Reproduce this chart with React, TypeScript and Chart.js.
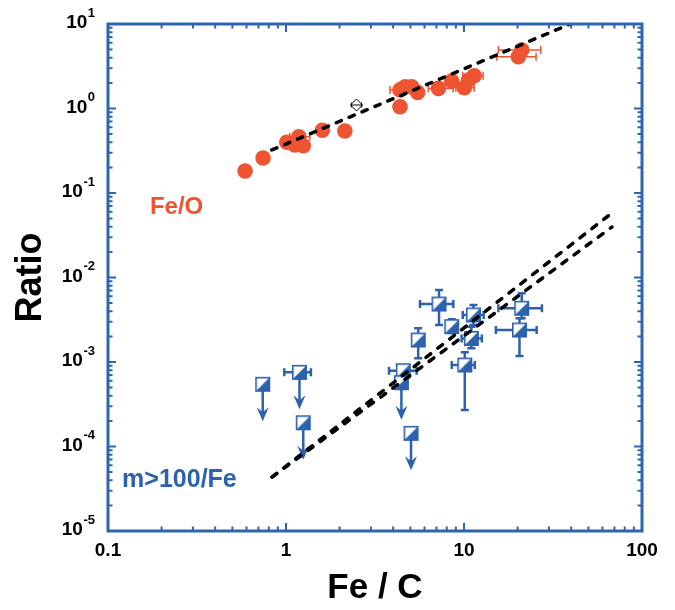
import React, { useEffect, useRef } from 'react';
import { Chart, registerables } from 'chart.js';

Chart.register(...registerables);

const FONT = '"Liberation Sans", Arial, Helvetica, sans-serif';
const RED = '#ee5332';
const BLUE = '#2c62ad';
const FRAME = '#2f64ae';

// ---- Fe/O series ----
const feoX = [0.589, 0.743, 1.01, 1.18, 1.12, 1.25, 1.6, 2.14, 4.37, 4.37, 4.67, 5.08, 5.49, 7.18, 8.52, 10.04, 10.6, 11.4, 20.2, 21.1];
const feoY = [0.182, 0.26, 0.398, 0.464, 0.37, 0.363, 0.552, 0.542, 1.05, 1.66, 1.81, 1.81, 1.55, 1.73, 2.11, 1.76, 2.17, 2.44, 4.1, 4.92];
const feoXLo = [null, null, null, 1.05, null, null, null, null, null, 3.84, null, null, null, 6.3, null, 9.0, null, 9.85, 15.3, 15.6];
const feoXHi = [null, null, null, 1.36, null, null, null, null, null, 5.0, null, null, null, 8.7, null, 11.4, null, 12.8, 25.4, 27.0];

// reference (open diamond)
const refX = [2.49];
const refY = [1.1];
const refXLo = [2.33];
const refXHi = [2.66];

// Fe/O fit
const feoFitX = [0.832, 39.5];
const feoFitY = [0.323, 10];

// ---- m>100/Fe series ----
const mX = [0.74, 1.19, 1.25, 5.04, 4.56, 4.45, 5.53, 7.24, 8.53, 11.3, 11.0, 10.1, 21.1, 20.5];
const mY = [5.45e-4, 7.55e-4, 1.91e-4, 1.43e-4, 7.89e-4, 5.69e-4, 1.82e-3, 4.85e-3, 2.62e-3, 3.6e-3, 1.9e-3, 9.2e-4, 4.32e-3, 2.39e-3];
const mXLo = [null, 0.978, null, null, 3.79, null, null, 5.66, null, 9.84, 9.7, 8.53, 15.6, 15.1];
const mXHi = [null, 1.38, null, null, 5.42, null, null, 8.71, null, 12.9, 12.6, 11.5, 27.4, 25.6];
const mYLo = [null, null, null, null, null, null, 1.11e-3, 2.74e-3, 2.2e-3, 2.74e-3, 1.45e-3, 2.7e-4, 3.3e-3, 1.18e-3];
const mYHi = [null, null, null, null, null, null, 2.51e-3, 7.1e-3, 3.2e-3, 4.73e-3, 2.62e-3, 1.3e-3, 6.5e-3, 3.3e-3];
const mUpper = [true, true, true, true, false, true, false, false, false, false, false, false, false, false];

// m>100/Fe fits
const mFitX = [0.834, 67.8];
const mFitUpperY = [4.35e-5, 0.058];
const mFitLowerY = [4.35e-5, 0.0396];

// ticks
const xTickValues = [0.1, 1, 10, 100];
const xTickLabels = ['0.1', '1', '10', '100'];
const yTickExponents = [-5, -4, -3, -2, -1, 0, 1];

// annotations (data coords)
const feoLabel = { text: 'Fe/O', x: 0.172, y: 0.068 };
const mLabel = { text: 'm>100/Fe', x: 0.12, y: 4.0e-5 };

function makeHalfSquare(size: number): HTMLCanvasElement {
  const c = document.createElement('canvas');
  c.width = size + 2;
  c.height = size + 2;
  const g = c.getContext('2d')!;
  const o = 1;
  g.fillStyle = '#fff';
  g.fillRect(o, o, size, size);
  g.fillStyle = BLUE;
  g.beginPath();
  g.moveTo(o + size, o);
  g.lineTo(o + size, o + size);
  g.lineTo(o, o + size);
  g.closePath();
  g.fill();
  g.strokeStyle = BLUE;
  g.lineWidth = 1.6;
  g.strokeRect(o + 0.8, o + 0.8, size - 1.6, size - 1.6);
  return c;
}

function errLine(ctx: CanvasRenderingContext2D, x1: number, y1: number, x2: number, y2: number, cap: number, horizontal: boolean) {
  ctx.beginPath();
  ctx.moveTo(x1, y1);
  ctx.lineTo(x2, y2);
  if (horizontal) {
    ctx.moveTo(x1, y1 - cap / 2);
    ctx.lineTo(x1, y1 + cap / 2);
    ctx.moveTo(x2, y2 - cap / 2);
    ctx.lineTo(x2, y2 + cap / 2);
  } else {
    ctx.moveTo(x1 - cap / 2, y1);
    ctx.lineTo(x1 + cap / 2, y1);
    ctx.moveTo(x2 - cap / 2, y2);
    ctx.lineTo(x2 + cap / 2, y2);
  }
  ctx.stroke();
}

const decorPlugin = {
  id: 'decor',
  beforeDatasetsDraw(chart: any) {
    const { ctx, scales } = chart;
    const xs = scales.x, ys = scales.y;
    ctx.save();
    ctx.strokeStyle = RED;
    ctx.lineWidth = 1.5;
    feoX.forEach((_, i) => {
      if (feoXLo[i] == null) return;
      const py = ys.getPixelForValue(feoY[i]);
      errLine(ctx, xs.getPixelForValue(feoXLo[i]), py, xs.getPixelForValue(feoXHi[i]), py, 8, true);
    });
    ctx.strokeStyle = BLUE;
    ctx.fillStyle = BLUE;
    ctx.lineWidth = 2.5;
    mX.forEach((xv, i) => {
      const px = xs.getPixelForValue(xv);
      const py = ys.getPixelForValue(mY[i]);
      if (mXLo[i] != null) {
        errLine(ctx, xs.getPixelForValue(mXLo[i]), py, xs.getPixelForValue(mXHi[i]), py, 8, true);
      }
      if (mYLo[i] != null) {
        errLine(ctx, px, ys.getPixelForValue(mYHi[i]), px, ys.getPixelForValue(mYLo[i]), 8, false);
      }
      if (mUpper[i]) {
        const len = 37;
        const tip = py + len;
        ctx.beginPath();
        ctx.moveTo(px, py);
        ctx.lineTo(px, tip - 6);
        ctx.stroke();
        ctx.beginPath();
        ctx.moveTo(px, tip);
        ctx.lineTo(px - 6, tip - 14);
        ctx.lineTo(px, tip - 9);
        ctx.lineTo(px + 6, tip - 14);
        ctx.closePath();
        ctx.fill();
      }
    });
    ctx.restore();
  },
  afterDatasetsDraw(chart: any) {
    const { ctx, scales } = chart;
    const xs = scales.x, ys = scales.y;
    ctx.save();
    ctx.strokeStyle = '#000';
    ctx.lineWidth = 1;
    refX.forEach((_, i) => {
      const py = ys.getPixelForValue(refY[i]);
      errLine(ctx, xs.getPixelForValue(refXLo[i]), py, xs.getPixelForValue(refXHi[i]), py, 5, true);
    });
    ctx.restore();
  },
  afterDraw(chart: any) {
    const { ctx, chartArea, scales } = chart;
    const xs = scales.x, ys = scales.y;
    const { left, right, top, bottom } = chartArea;
    ctx.save();
    ctx.strokeStyle = FRAME;
    ctx.lineWidth = 2;
    ctx.beginPath();
    for (let e = -1; e <= 1; e++) {
      for (let k = 1; k <= 9; k++) {
        const v = k * Math.pow(10, e);
        const px = xs.getPixelForValue(v);
        if (px <= left + 1 || px >= right - 1) continue;
        const len = k === 1 ? 8 : 4.5;
        ctx.moveTo(px, bottom);
        ctx.lineTo(px, bottom - len);
        ctx.moveTo(px, top);
        ctx.lineTo(px, top + len);
      }
    }
    for (let e = -5; e <= 0; e++) {
      for (let k = 1; k <= 9; k++) {
        const v = k * Math.pow(10, e);
        const py = ys.getPixelForValue(v);
        if (py <= top + 1 || py >= bottom - 1) continue;
        const len = k === 1 ? 8 : 4.5;
        ctx.moveTo(left, py);
        ctx.lineTo(left + len, py);
        ctx.moveTo(right, py);
        ctx.lineTo(right - len, py);
      }
    }
    ctx.stroke();
    ctx.lineWidth = 3;
    ctx.strokeRect(left, top, right - left, bottom - top);

    ctx.fillStyle = '#000';
    ctx.textBaseline = 'middle';
    ctx.textAlign = 'right';
    yTickExponents.forEach((ex) => {
      const py = ys.getPixelForValue(Math.pow(10, ex));
      const es = String(ex);
      ctx.font = `bold 13px ${FONT}`;
      const ew = ctx.measureText(es).width;
      ctx.fillText(es, left - 13, py - 11);
      ctx.font = `bold 19px ${FONT}`;
      ctx.fillText('10', left - 13 - ew - 0.5, py - 1);
    });

    ctx.textAlign = 'left';
    ctx.font = `bold 24px ${FONT}`;
    ctx.fillStyle = RED;
    ctx.fillText(feoLabel.text, xs.getPixelForValue(feoLabel.x), ys.getPixelForValue(feoLabel.y));
    ctx.font = `bold 25px ${FONT}`;
    ctx.fillStyle = BLUE;
    ctx.fillText(mLabel.text, xs.getPixelForValue(mLabel.x), ys.getPixelForValue(mLabel.y));
    ctx.restore();
  },
};

export default function App() {
  const ref = useRef<HTMLCanvasElement | null>(null);
  useEffect(() => {
    if (!ref.current) return;
    const square = makeHalfSquare(15);
    const lineStyle = {
      showLine: true,
      pointRadius: 0,
      borderColor: '#000',
      borderWidth: 3.5,
      borderDash: [6, 9],
      borderCapStyle: 'round' as const,
      fill: false,
      order: 0,
    };
    const chart = new Chart(ref.current, {
      type: 'scatter',
      data: {
        datasets: [
          { ...lineStyle, label: 'Fe/O fit', data: feoFitX.map((x, i) => ({ x, y: feoFitY[i] })), borderDash: [5.5, 8.5] },
          { ...lineStyle, label: 'm fit upper', data: mFitX.map((x, i) => ({ x, y: mFitUpperY[i] })) },
          { ...lineStyle, label: 'm fit lower', data: mFitX.map((x, i) => ({ x, y: mFitLowerY[i] })) },
          {
            label: 'Reference',
            data: refX.map((x, i) => ({ x, y: refY[i] })),
            pointStyle: 'rectRot',
            pointRadius: 6,
            backgroundColor: '#fff',
            borderColor: '#000',
            borderWidth: 1,
            order: 1,
          },
          {
            label: 'Fe/O',
            data: feoX.map((x, i) => ({ x, y: feoY[i] })),
            pointRadius: 7.8,
            backgroundColor: RED,
            borderColor: RED,
            borderWidth: 0,
            order: 1,
          },
          {
            label: 'm>100/Fe',
            data: mX.map((x, i) => ({ x, y: mY[i] })),
            pointStyle: square as any,
            pointRadius: 8,
            order: 1,
          },
        ],
      },
      options: {
        animation: false,
        responsive: false,
        maintainAspectRatio: false,
        devicePixelRatio: 1,
        events: [],
        layout: { padding: { top: 24, right: 33, left: 0, bottom: 0 } },
        plugins: { legend: { display: false }, tooltip: { enabled: false } },
        scales: {
          x: {
            type: 'logarithmic',
            min: 0.1,
            max: 100,
            afterBuildTicks: (s: any) => {
              s.ticks = xTickValues.map((v) => ({ value: v }));
            },
            afterFit: (s: any) => {
              s.height = 79;
            },
            ticks: {
              autoSkip: false,
              maxRotation: 0,
              padding: 8,
              color: '#000',
              font: { family: FONT, size: 19, weight: 'bold' },
              callback: (v: any) => {
                const idx = xTickValues.indexOf(Number(v));
                return idx >= 0 ? xTickLabels[idx] : '';
              },
            },
            grid: { display: false, drawTicks: false },
            border: { display: false },
            title: {
              display: true,
              text: 'Fe / C',
              color: '#000',
              font: { family: FONT, size: 35, weight: 'bold' },
              padding: { top: 0, bottom: 1 },
            },
          },
          y: {
            type: 'logarithmic',
            min: 1e-5,
            max: 10,
            afterBuildTicks: (s: any) => {
              s.ticks = yTickExponents.map((e) => ({ value: Math.pow(10, e) }));
            },
            afterFit: (s: any) => {
              s.width = 108;
            },
            ticks: { display: false },
            grid: { display: false, drawTicks: false },
            border: { display: false },
            title: {
              display: true,
              text: 'Ratio',
              color: '#000',
              font: { family: FONT, size: 36, weight: 'bold' },
              padding: { top: 9, bottom: 0 },
            },
          },
        },
      } as any,
      plugins: [decorPlugin],
    });
    return () => chart.destroy();
  }, []);
  return (
    <div style={{ position: 'fixed', left: 0, top: 0, width: 675, height: 610, background: '#fff' }}>
      <canvas ref={ref} width={675} height={610} style={{ width: 675, height: 610, display: 'block' }} />
    </div>
  );
}
